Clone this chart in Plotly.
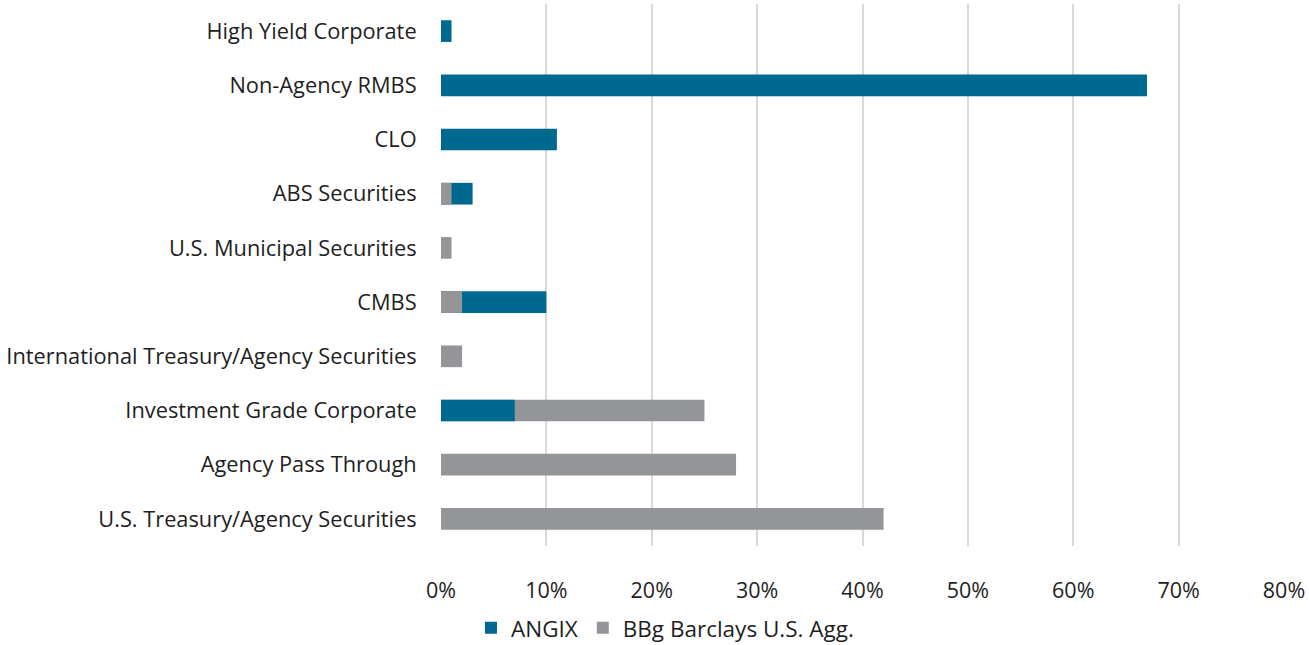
import plotly.graph_objects as go

categories = ["High Yield Corporate", "Non-Agency RMBS", "CLO", "ABS Securities",
              "U.S. Municipal Securities", "CMBS", "International Treasury/Agency Securities",
              "Investment Grade Corporate", "Agency Pass Through", "U.S. Treasury/Agency Securities"]
angix = [1, 67, 11, 3, 0, 10, 0, 7, 0, 0]
bbg = [0, 0, 0, 1, 1, 2, 2, 25, 28, 42]
tick_vals = [0, 10, 20, 30, 40, 50, 60, 70, 80]
tick_text = ["0%", "10%", "20%", "30%", "40%", "50%", "60%", "70%", "80%"]

BLUE = "#006990"
GREY = "#939598"
FONT = "Open Sans"

angix_long = [a if a >= b else None for a, b in zip(angix, bbg)]
angix_short = [a if a < b else None for a, b in zip(angix, bbg)]

fig = go.Figure()
fig.add_trace(go.Bar(y=categories, x=angix_long, orientation="h", name="ANGIX",
                     marker=dict(color=BLUE, line=dict(width=0)), legendgroup="a",
                     showlegend=True, legendrank=1))
fig.add_trace(go.Bar(y=categories, x=bbg, orientation="h", name="BBg Barclays U.S. Agg.",
                     marker=dict(color=GREY, line=dict(width=0)), legendgroup="b",
                     showlegend=True, legendrank=2))
fig.add_trace(go.Bar(y=categories, x=angix_short, orientation="h", name="ANGIX",
                     marker=dict(color=BLUE, line=dict(width=0)), legendgroup="a",
                     showlegend=False))

fig.update_layout(
    width=1309, height=645,
    barmode="overlay", bargap=0.6,
    plot_bgcolor="white", paper_bgcolor="white",
    margin=dict(l=441, r=25, t=4, b=99, autoexpand=False),
    font=dict(family=FONT, size=21.8, color="#1e1e1e"),
    legend=dict(orientation="h", xref="container", x=0.508, xanchor="center",
                yref="container", y=0.026, yanchor="middle",
                font=dict(size=22.5), itemwidth=30, traceorder="normal",
                bgcolor="rgba(0,0,0,0)"),
    xaxis=dict(range=[0, 80], tickvals=tick_vals, ticktext=tick_text,
               showgrid=True, gridcolor="#d9d9d9", gridwidth=2,
               zeroline=False, showline=False, tickfont=dict(size=21.5),
               ticks="outside", ticklen=25, tickcolor="rgba(0,0,0,0)"),
    yaxis=dict(categoryorder="array", categoryarray=categories, autorange="reversed",
               showgrid=False, zeroline=False, showline=False,
               ticks="outside", ticklen=19, tickcolor="rgba(0,0,0,0)"),
)

fig.write_html("out.html", config={"displayModeBar": False},
               post_script="document.body.style.margin='0';")
